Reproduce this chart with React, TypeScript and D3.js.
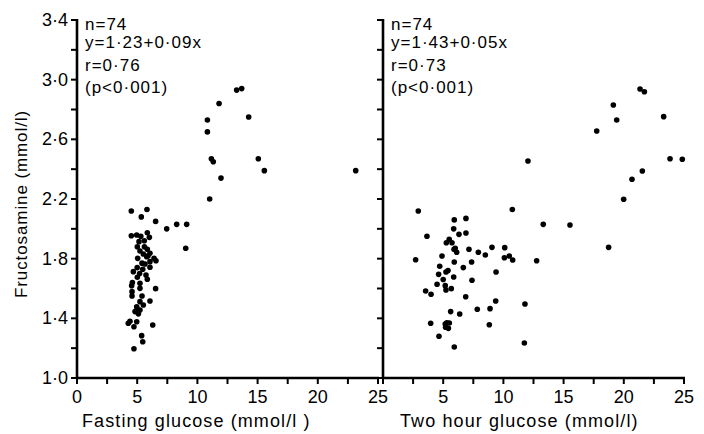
import React from "react";
import * as d3 from "d3";

// Left panel: fasting glucose (mmol/l) vs fructosamine (mmol/l)
const fastingX = [
  13.26, 13.68, 11.8, 10.83, 10.83, 14.26, 11.16, 11.32, 15.06, 15.56, 23.15, 11.96, 11.02,
  8.28, 9.11, 9.03, 7.45, 6.53, 4.51, 5.81, 5.34,
  4.51, 4.96, 5.84, 6.01, 5.15, 5.59, 5.01, 5.23, 5.84, 6.06, 5.51, 5.04, 5.79, 6.40, 6.06, 6.56,
  5.65, 6.06, 5.46, 4.68, 5.73, 5.01, 5.84, 5.23, 4.54, 5.23, 6.53, 4.57, 4.57, 5.23, 6.06, 4.96,
  5.51, 4.82, 5.23, 4.26, 4.96, 4.73, 6.29, 5.37, 5.46, 4.73,
  5.3, 5.6, 5.9, 5.4, 5.0, 5.2, 4.6, 5.4, 5.0, 4.4, 5.1,
];
const fastingY = [
  2.93, 2.94, 2.84, 2.73, 2.65, 2.75, 2.47, 2.45, 2.47, 2.39, 2.39, 2.34, 2.2,
  2.03, 2.03, 1.87, 2.0, 2.05, 2.12, 2.13, 2.08,
  1.954, 1.959, 1.974, 1.943, 1.914, 1.92, 1.88, 1.851, 1.863, 1.836, 1.831, 1.802, 1.813, 1.802, 1.78, 1.786,
  1.764, 1.742, 1.729, 1.713, 1.69, 1.675, 1.662, 1.635, 1.619, 1.601, 1.599, 1.579, 1.55, 1.512, 1.516, 1.478,
  1.489, 1.445, 1.456, 1.367, 1.377, 1.344, 1.355, 1.284, 1.243, 1.196,
  1.95, 1.88, 1.82, 1.77, 1.74, 1.7, 1.64, 1.55, 1.46, 1.38, 1.43,
];

// Right panel: two hour glucose (mmol/l) vs fructosamine (mmol/l)
const twoHourX = [
  2.93, 10.74, 13.31, 5.92, 6.89, 3.65, 5.87, 6.31, 6.89, 5.26, 5.73, 5.9, 6.12, 7.14, 7.92, 8.5,
  9.05, 10.11, 10.08, 10.49, 10.77, 12.76, 2.71, 4.9, 5.92, 7.36, 4.71, 6.67, 9.39, 4.62, 5.23, 5.87,
  7.39, 4.49, 5.17, 5.67, 5.23, 3.54, 3.99, 6.87, 9.36, 11.79, 7.83, 8.89, 5.62, 6.37, 3.96, 5.17,
  5.51, 5.43, 8.83, 4.65, 11.74, 5.92, 5.2,
  21.35, 21.71, 19.13, 19.41, 23.31, 17.75, 23.84, 24.86, 21.54, 20.68, 19.99, 15.53, 18.74, 12.04,
  5.5, 6.0, 5.0, 5.4, 5.3,
];
const twoHourY = [
  2.12, 2.13, 2.03, 2.06, 2.07, 1.95, 2.0, 1.963, 1.972, 1.907, 1.907, 1.863, 1.843, 1.863, 1.843, 1.825,
  1.876, 1.874, 1.806, 1.818, 1.791, 1.786, 1.793, 1.818, 1.778, 1.778, 1.749, 1.74, 1.711, 1.695, 1.711, 1.677,
  1.655, 1.628, 1.619, 1.599, 1.59, 1.583, 1.561, 1.545, 1.516, 1.496, 1.461, 1.465, 1.445, 1.429, 1.367, 1.362,
  1.369, 1.333, 1.357, 1.28, 1.235, 1.208, 1.34,
  2.937, 2.919, 2.83, 2.73, 2.752, 2.656, 2.47, 2.466, 2.388, 2.332, 2.198, 2.026, 1.876, 2.455,
  1.93, 1.87, 1.66, 1.72, 1.37,
];

const yLabelTicks = [1.0, 1.4, 1.8, 2.2, 2.6, 3.0, 3.4];
const yMinorTicks = [1.0, 1.2, 1.4, 1.6, 1.8, 2.0, 2.2, 2.4, 2.6, 2.8, 3.0, 3.2, 3.4];
const xMinorTicks = [0, 2.5, 5, 7.5, 10, 12.5, 15, 17.5, 20, 22.5, 25];
const leftXLabels = [0, 5, 10, 15, 20, 25];
const rightXLabels = [5, 10, 15, 20, 25];
const leftStats = ["n=74", "y=1·23+0·09x", "r=0·76", "(p<0·001)"];
const rightStats = ["n=74", "y=1·43+0·05x", "r=0·73", "(p<0·001)"];
const leftTitle = "Fasting glucose (mmol/l )";
const rightTitle = "Two hour glucose (mmol/l)";
const yTitle = "Fructosamine (mmol/l)";

const FONT = "'Liberation Sans', Arial, sans-serif";
const fmt = (v: number) => v.toFixed(1).replace(".", "·");

const y = d3.scaleLinear().domain([1.0, 3.4]).range([378, 20]);

function Panel({ x0, xs, ys, xLabels, stats, title, titleX }: any) {
  const x = d3.scaleLinear().domain([0, 25]).range([x0, x0 + 301]);
  const y0 = y(1.0);
  return (
    <g>
      <line x1={x0} x2={x0} y1={y(3.4) - 1} y2={y0 + 1} stroke="#000" strokeWidth={2.6} />
      <line x1={x0 - 1} x2={x(25) + 1} y1={y0} y2={y0} stroke="#000" strokeWidth={2.6} />
      {yMinorTicks.map((t) => (
        <line key={"yt" + t} x1={x0 - 6} x2={x0} y1={y(t)} y2={y(t)} stroke="#000" strokeWidth={2} />
      ))}
      {xMinorTicks.map((t) => (
        <line key={"xt" + t} x1={x(t)} x2={x(t)} y1={y0} y2={y0 + 6} stroke="#000" strokeWidth={2} />
      ))}
      {xLabels.map((t: number) => (
        <text key={"xl" + t} x={x(t)} y={y0 + 25} textAnchor="middle" fontSize={18} fontFamily={FONT}>
          {t}
        </text>
      ))}
      <text x={titleX} y={y0 + 49} fontSize={18} fontFamily={FONT} letterSpacing={1.1}>
        {title}
      </text>
      {stats.map((s: string, i: number) => (
        <text key={s} x={x0 + 8} y={[30, 48, 71, 93][i]} fontSize={17} fontFamily={FONT} letterSpacing={1.0}>
          {s}
        </text>
      ))}
      {xs.map((v: number, i: number) => (
        <circle key={i} cx={x(v)} cy={y(ys[i])} r={2.8} fill="#000" />
      ))}
    </g>
  );
}

export default function App() {
  return (
    <svg width={704} height={434} style={{ display: "block", position: "absolute", left: 0, top: 0, background: "#fff" }}>
      <rect width={704} height={434} fill="#fff" />
      {yLabelTicks.map((t) => (
        <text key={"yl" + t} x={68} y={y(t) + 6} textAnchor="end" fontSize={18} fontFamily={FONT}>
          {fmt(t)}
        </text>
      ))}
      <text
        transform={`translate(27, ${204}) rotate(-90)`}
        textAnchor="middle"
        fontSize={17}
        fontFamily={FONT}
        letterSpacing={0.9}
      >
        {yTitle}
      </text>
      <Panel x0={77} xs={fastingX} ys={fastingY} xLabels={leftXLabels} stats={leftStats} title={leftTitle} titleX={82} />
      <Panel x0={383} xs={twoHourX} ys={twoHourY} xLabels={rightXLabels} stats={rightStats} title={rightTitle} titleX={400} />
    </svg>
  );
}
